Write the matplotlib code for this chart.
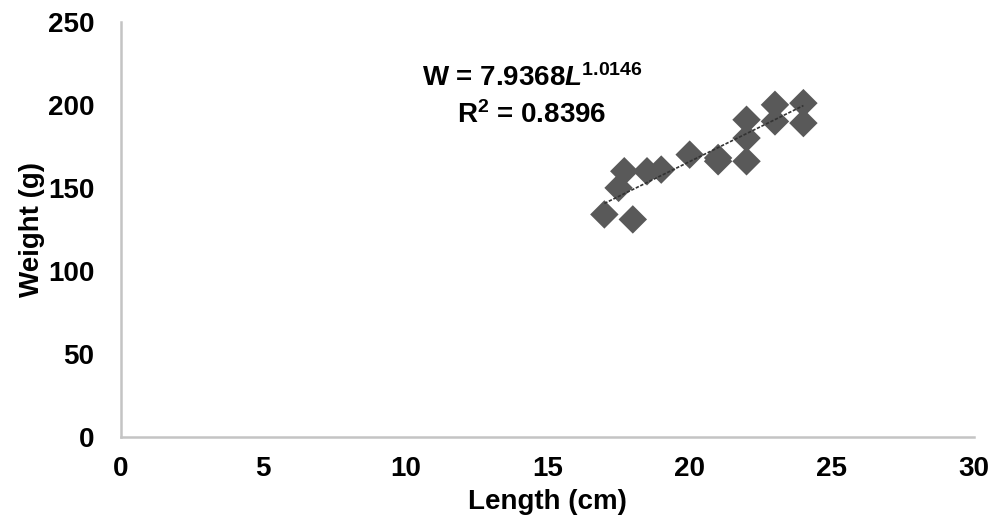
import numpy as np
import matplotlib.pyplot as plt

# length (cm) and weight (g)
length = [17.0, 18.0, 17.5, 17.7, 18.5, 19.0, 20.0, 21.0, 21.0, 22.0, 22.0, 22.0, 23.0, 23.0, 24.0, 24.0]
weight = [134, 131, 150, 160, 160, 161, 170, 168, 166, 166, 180, 191, 200, 190, 201, 189]

# power fit given on the chart
coef_a = 7.9368
coef_b = 1.0146
r2 = 0.8396

x_ticks = [0, 5, 10, 15, 20, 25, 30]
y_ticks = [0, 50, 100, 150, 200, 250]

plt.rcParams['font.family'] = ['Liberation Sans', 'DejaVu Sans']
plt.rcParams['font.weight'] = 'bold'
plt.rcParams['mathtext.fontset'] = 'custom'
plt.rcParams['mathtext.rm'] = 'Liberation Sans'
plt.rcParams['mathtext.bf'] = 'Liberation Sans:bold'
plt.rcParams['mathtext.it'] = 'Liberation Sans:italic'
plt.rcParams['mathtext.bfit'] = 'Liberation Sans:bold:italic'

fig = plt.figure(figsize=(10, 5.31), dpi=100)
ax = fig.add_axes([0.121, 0.177, 0.853, 0.782])

ax.scatter(length, weight, marker='D', s=210, color='#595959', edgecolors='none', zorder=3)

fit_x = np.linspace(min(length), max(length), 50)
fit_y = coef_a * fit_x ** coef_b
ax.plot(fit_x, fit_y, color='#333333', lw=1.2, ls=(0, (2, 1)), zorder=4)

ax.set_xlim(0, 30)
ax.set_ylim(0, 250)
ax.set_xticks(x_ticks)
ax.set_yticks(y_ticks)
ax.tick_params(length=0, labelsize=20)
ax.tick_params(axis='x', pad=14)
ax.tick_params(axis='y', pad=19)

for s in ['top', 'right']:
    ax.spines[s].set_visible(False)
for s in ['left', 'bottom']:
    ax.spines[s].set_color('#c4c4c4')
    ax.spines[s].set_linewidth(1.8)

ax.set_xlabel('Length (cm)', fontsize=20, fontweight='bold', labelpad=5)
ax.set_ylabel('Weight (g)', fontsize=20, fontweight='bold', labelpad=2)

ax.text(14.45, 216, r'W = 7.9368$\mathbfit{L}$$^{\mathrm{1.0146}}$', fontsize=20,
        fontweight='bold', ha='center', va='center')
ax.text(14.45, 194, r'R$^{\mathrm{2}}$ = ' + f'{r2:.4f}', fontsize=20,
        fontweight='bold', ha='center', va='center')

fig.savefig('out.png', dpi=100)
